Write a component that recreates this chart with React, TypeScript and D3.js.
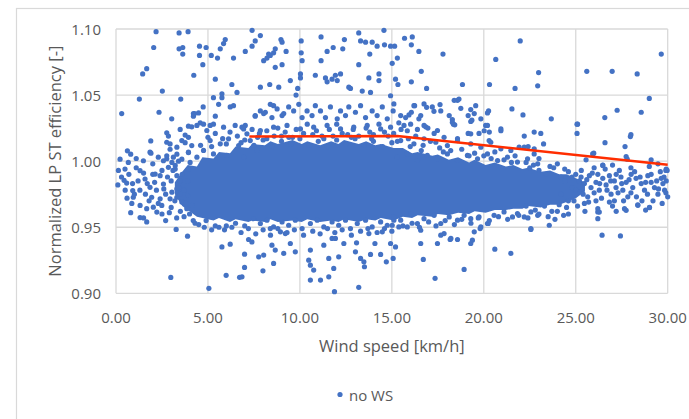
import React, { useRef, useEffect } from "react";
import * as d3 from "d3";

// axis ticks
const xTicks = [0, 5, 10, 15, 20, 25, 30];
const yTicks = [0.9, 0.95, 1.0, 1.05, 1.1];

// dense core of the cloud: [wind speed, lower, upper]
const coreBand = [
  [3.2, 0.975, 0.984], [3.6, 0.966, 0.992], [3.9, 0.963, 0.997], [4.4, 0.958, 0.996],
  [4.7, 0.957, 1.003], [5.3, 0.955, 1.002], [5.6, 0.957, 1.007], [6.2, 0.954, 1.006],
  [6.5, 0.956, 1.011], [7.2, 0.954, 1.010], [7.4, 0.955, 1.013], [8.1, 0.954, 1.012],
  [8.4, 0.956, 1.015], [8.8, 0.954, 1.013], [9.6, 0.955, 1.016], [10.1, 0.954, 1.013],
  [10.4, 0.956, 1.015], [11.1, 0.954, 1.012], [11.7, 0.955, 1.015], [12.1, 0.954, 1.013],
  [12.4, 0.956, 1.016], [13.2, 0.954, 1.013], [13.6, 0.956, 1.015], [14.1, 0.955, 1.012],
  [14.4, 0.957, 1.013], [15.1, 0.955, 1.010], [15.6, 0.958, 1.010], [16.1, 0.957, 1.006],
  [16.4, 0.959, 1.007], [17.2, 0.958, 1.004], [17.5, 0.960, 1.005], [18.1, 0.959, 1.001],
  [18.6, 0.961, 1.003], [19.2, 0.960, 0.999], [19.5, 0.962, 1.001], [20.1, 0.961, 0.997],
  [20.6, 0.963, 0.999], [21.2, 0.963, 0.996], [21.6, 0.964, 0.997], [22.1, 0.964, 0.994],
  [22.4, 0.966, 0.995], [23.1, 0.965, 0.992], [23.6, 0.967, 0.993], [24.1, 0.967, 0.990],
  [24.5, 0.969, 0.990], [25.0, 0.972, 0.987], [25.5, 0.977, 0.984],
];

// sparse points above the cloud
const topPoints = [
  [2.18, 1.098], [3.43, 1.097], [3.92, 1.098], [2.05, 1.086], [3.43, 1.085], [3.63, 1.086], [3.63, 1.081],
  [4.54, 1.087], [4.9, 1.086], [4.54, 1.080], [4.72, 1.073], [1.67, 1.070], [1.45, 1.066], [4.23, 1.065],
  [2.52, 1.053], [1.27, 1.047], [3.52, 1.047], [5.18, 1.080], [5.52, 1.078], [5.67, 1.085], [5.85, 1.089],
  [5.94, 1.092], [6.39, 1.078], [5.4, 1.062], [6.3, 1.058], [6.58, 1.052], [5.3, 1.048], [5.76, 1.051],
  [5.76, 1.048], [7.03, 1.083], [7.4, 1.087], [7.57, 1.091], [7.85, 1.095], [8.03, 1.076], [8.21, 1.078],
  [8.39, 1.080], [8.57, 1.082], [8.66, 1.085], [8.3, 1.081], [8.66, 1.071], [9.03, 1.073], [8.97, 1.092],
  [9.03, 1.090], [9.25, 1.083], [7.4, 1.099], [7.85, 1.056], [8.36, 1.058], [8.85, 1.056], [9.48, 1.061],
  [9.88, 1.055], [9.79, 1.050], [10.07, 1.091], [10.07, 1.082], [10.12, 1.076], [11.15, 1.094], [11.48, 1.083],
  [11.81, 1.086], [12.33, 1.085], [12.42, 1.092], [11.15, 1.076], [10.03, 1.066], [10.03, 1.063], [10.84, 1.065],
  [11.39, 1.063], [11.48, 1.060], [11.75, 1.062], [11.93, 1.065], [12.21, 1.066], [12.03, 1.061], [12.66, 1.056],
  [12.75, 1.055], [13.39, 1.053], [13.84, 1.052], [13.2, 1.097], [14.57, 1.099], [13.3, 1.091], [13.57, 1.090],
  [13.93, 1.090], [14.2, 1.087], [14.6, 1.088], [14.93, 1.087], [13.8, 1.081], [13.2, 1.073], [13.75, 1.063],
  [14.3, 1.066], [14.3, 1.061], [15.3, 1.078], [15.2, 1.062], [15.33, 1.058], [15.69, 1.093], [16.11, 1.094],
  [16.06, 1.088], [15.15, 1.087], [16.47, 1.083], [17.78, 1.081], [15.02, 1.074], [16.6, 1.068], [16.06, 1.060],
  [16.89, 1.055], [18.84, 1.058], [21.98, 1.091], [20.65, 1.077], [22.98, 1.067], [22.93, 1.057], [21.7, 1.055],
  [20.31, 1.058], [25.6, 1.068], [26.98, 1.068], [28.34, 1.066], [29.65, 1.081],
];

// points between the cloud and the top group
const upperPoints = [
  [7.03, 1.027], [7.57, 1.0345], [7.85, 1.038], [8.12, 1.037], [8.39, 1.043], [8.48, 1.033], [8.76, 1.0395],
  [9.03, 1.0345], [9.39, 1.041], [9.66, 1.038], [9.94, 1.043], [10.12, 1.033], [10.39, 1.038], [10.66, 1.0345],
  [10.84, 1.042], [11.12, 1.038], [11.39, 1.033], [11.66, 1.041], [12.03, 1.032], [12.21, 1.038], [12.48, 1.0345],
  [12.66, 1.041], [13.02, 1.037], [13.3, 1.042], [13.57, 1.033], [13.93, 1.038], [14.2, 1.0345], [14.48, 1.041],
  [14.75, 1.032], [6.85, 1.0257], [7.12, 1.0207], [7.85, 1.0232], [8.57, 1.0257], [9.3, 1.027], [10.03, 1.0244],
  [10.75, 1.0257], [11.48, 1.027], [12.21, 1.0244], [12.93, 1.0257], [13.66, 1.027], [14.39, 1.0244], [14.93, 1.0257],
  [14.93, 1.0495], [15.11, 1.0433], [15.07, 1.038], [16.24, 1.042], [16.75, 1.0433], [16.89, 1.0407], [17.62, 1.0428],
  [17.29, 1.0377], [16.06, 1.037], [15.93, 1.035], [15.75, 1.033], [15.48, 1.0345], [15.38, 1.029], [15.66, 1.027],
  [16.02, 1.028], [16.47, 1.032], [16.84, 1.026], [16.96, 1.025], [18.29, 1.0315], [18.35, 1.028], [18.42, 1.0275],
  [18.57, 1.046], [18.65, 1.047], [18.75, 1.040], [19.29, 1.039], [19.56, 1.042], [19.15, 1.0345], [19.35, 1.031],
  [19.74, 1.021], [19.15, 1.021], [20.26, 1.038], [20.2, 1.0365], [20.1, 1.027], [20.3, 1.022], [20.93, 1.023],
  [21.53, 1.0395], [22.13, 1.035], [23.67, 1.032], [22.74, 1.022], [23.1, 1.021], [22.2, 1.019], [25.07, 1.028],
  [25.07, 1.021], [26.58, 1.033], [27.25, 1.0385], [28.56, 1.037], [29.0, 1.0475], [28.0, 1.020], [20.29, 1.0156],
  [22.41, 1.011], [21.92, 1.0106], [22.74, 1.0094], [23.25, 1.013], [25.56, 1.001], [25.98, 1.006], [26.59, 1.014],
  [27.68, 1.011], [27.97, 1.0186], [27.74, 1.0035], [29.1, 1.001], [29.47, 0.998], [29.92, 0.994], [26.47, 0.997],
  [27.8, 1.0015], [16.2, 1.042], [16.57, 1.0345], [17.2, 1.041], [17.66, 1.038], [18.12, 1.0345], [18.39, 1.046],
  [19.48, 1.036], [19.84, 1.032], [20.02, 1.023], [15.84, 1.023], [16.39, 1.024], [17.3, 1.021], [17.84, 1.018],
  [18.57, 1.017], [19.29, 1.013], [4.21, 1.036], [4.12, 1.026], [4.58, 1.029], [0.31, 1.036], [2.34, 1.037],
  [3.03, 1.032], [4.27, 1.036], [4.74, 1.041], [4.76, 1.028], [5.12, 1.027], [5.4, 1.034], [7.57, 1.034],
  [8.03, 1.036], [8.57, 1.042], [9.12, 1.036], [5.58, 1.043], [6.39, 1.042], [6.21, 1.041],
];

// rough top edge of the cloud
const edgeTopPoints = [
  [15.3, 1.003], [15.84, 1.0055], [16.39, 1.0005], [16.93, 1.0043], [17.48, 1.0018], [18.02, 1.0055], [18.57, 1.0005],
  [19.11, 1.0043], [19.66, 1.0018], [20.2, 1.0055], [20.75, 1.0005], [21.29, 1.003], [21.83, 0.9993], [22.38, 1.0018],
  [22.93, 0.998], [15.48, 1.0156], [16.2, 1.0131], [16.75, 1.0169], [17.39, 1.0143], [18.02, 1.0118], [18.57, 1.0156],
  [19.84, 1.0106], [20.38, 1.0143], [20.93, 1.0093], [21.47, 1.0081], [22.2, 1.0106], [22.74, 1.0055], [18.29, 1.0294],
  [19.29, 1.030], [20.2, 1.027], [20.93, 1.0244], [19.29, 1.0207], [16.75, 1.027], [17.48, 1.0232], [7.5, 1.012],
  [8.0, 1.016], [8.5, 1.011], [9.0, 1.015], [9.5, 1.013], [10.0, 1.017], [10.5, 1.012], [11.0, 1.015], [11.5, 1.011],
  [12.0, 1.016], [12.5, 1.013], [13.0, 1.017], [13.5, 1.012], [14.0, 1.015], [14.5, 1.011], [15.0, 1.014], [7.8, 1.021],
  [9.2, 1.022], [10.7, 1.020], [12.3, 1.021], [13.8, 1.022], [14.8, 1.019], [8.6, 1.019], [11.8, 1.019], [4.4, 1.027],
  [4.94, 1.0232], [5.3, 1.028], [5.85, 1.0257], [6.48, 1.027], [6.94, 1.0244], [5.12, 1.0156], [5.67, 1.0131],
  [6.12, 1.0169], [6.67, 1.0118], [7.3, 1.0156], [7.67, 1.0081], [4.76, 1.0081], [5.3, 1.0055], [6.03, 1.0043],
  [4.4, 1.003], [6.94, 1.003], [3.94, 1.0068], [4.12, 1.0118], [3.76, 1.0197], [3.94, 1.018], [2.76, 1.0143],
  [2.94, 1.013], [3.31, 1.0106], [3.58, 1.0156], [1.85, 1.0068], [2.58, 1.0003], [2.76, 1.0018], [3.12, 1.003],
  [3.22, 0.9968], [22.5, 0.995], [23.0, 0.993], [23.4, 0.990], [23.8, 0.995], [24.2, 0.988], [24.6, 0.992],
  [25.0, 0.990], [25.2, 0.985], [24.8, 0.980],
  [4.6, 1.012], [5.0, 1.018], [5.4, 1.021], [5.8, 1.017], [6.2, 1.022], [6.6, 1.019], [7.0, 1.016], [7.4, 1.024],
  [7.7, 1.018], [8.2, 1.023], [8.8, 1.025], [9.0, 1.019], [9.4, 1.018], [9.8, 1.024], [10.2, 1.021], [10.4, 1.028],
  [10.9, 1.023], [11.2, 1.019], [11.6, 1.024], [12.0, 1.028], [12.6, 1.020], [12.9, 1.024], [13.2, 1.019],
  [13.6, 1.025], [14.0, 1.020], [14.3, 1.028], [14.6, 1.022], [15.1, 1.021], [15.5, 1.024], [15.9, 1.017],
  [16.3, 1.019], [16.7, 1.012], [17.1, 1.015], [17.6, 1.010], [18.2, 1.008], [18.8, 1.009], [19.5, 1.006],
  [20.0, 1.004], [20.6, 1.007], [21.1, 1.001], [21.7, 1.004], [22.3, 0.999], [23.0, 1.002], [23.6, 0.996],
  [24.0, 0.998], [24.4, 0.994], [5.2, 1.011], [6.0, 1.013], [6.8, 1.014], [8.2, 1.017], [9.6, 1.018],
  [11.3, 1.017], [12.8, 1.018], [13.9, 1.017], [15.3, 1.015], [16.0, 1.011], [16.6, 1.008], [17.8, 1.007],
  [19.2, 1.004], [20.4, 1.002], [21.5, 0.999], [22.7, 0.997],
];

// left side of the cloud, low wind speeds
const leftPoints = [
  [0.22, 1.0015], [0.49, 0.994], [0.67, 0.999], [0.62, 1.0078], [0.8, 1.0053], [1.49, 1.0003], [1.31, 0.9928],
  [1.58, 0.9865], [1.85, 0.9802], [0.91, 0.9777], [0.94, 0.9727], [1.31, 0.9665], [1.67, 0.964], [2.03, 0.9652],
  [2.22, 0.9615], [2.49, 0.9665], [2.4, 0.9715], [1.94, 0.9727], [2.13, 0.9902], [2.4, 0.989], [2.58, 0.9827],
  [2.85, 0.9953], [3.04, 0.999], [2.76, 1.004], [2.94, 1.009], [3.31, 1.0053], [3.58, 1.0015], [3.22, 0.994],
  [3.31, 0.989], [3.49, 0.9852], [3.31, 0.979], [3.04, 0.9765], [2.94, 0.9715], [3.31, 0.9727], [3.58, 0.969],
  [3.85, 0.964], [4.13, 0.9665], [3.94, 0.994], [4.03, 0.999], [3.94, 1.0065], [3.76, 1.014], [3.94, 1.0265],
  [4.21, 1.034], [4.49, 1.0365], [3.49, 1.024], [2.76, 1.0215], [2.85, 1.019], [1.89, 1.0153], [0.13, 0.993],
  [0.44, 0.9855], [0.58, 0.9834], [0.86, 0.968], [1.31, 0.9573], [1.67, 0.954], [3.6, 0.990], [3.9, 0.985],
  [3.5, 0.975], [3.8, 0.968], [4.0, 0.960], [3.7, 0.958], [4.2, 0.955], [4.5, 0.952], [4.8, 0.950], [5.2, 0.948],
  [5.6, 0.950], [6.0, 0.951], [6.5, 0.953], [7.0, 0.951], [3.4, 0.980], [3.0, 0.985], [2.7, 0.975], [2.2, 0.978],
  [2.0, 0.990], [1.2, 0.985], [1.0, 0.975], [0.5, 0.978], [1.6, 0.975], [2.5, 0.960], [3.0, 0.965],
  [0.3, 0.988], [0.7, 0.990], [0.9, 0.983], [1.1, 0.995], [1.3, 0.978], [1.5, 0.991], [1.7, 0.983], [1.8, 0.970],
  [2.0, 0.998], [2.1, 0.984], [2.3, 0.968], [2.5, 0.993], [2.6, 0.979], [2.8, 0.988], [2.9, 0.961], [3.1, 0.993],
  [3.2, 0.970], [3.4, 1.000], [3.5, 0.962], [3.7, 0.978], [3.9, 0.974], [1.1, 1.002], [1.9, 1.006], [2.3, 1.003],
  [0.8, 0.961], [1.5, 0.957], [2.7, 0.955], [3.3, 0.957], [0.1, 0.982], [0.6, 0.972],
];

// points below the cloud
const lowerPoints = [
  [3.27, 0.9483], [3.89, 0.9432], [5.76, 0.9351], [6.21, 0.9372], [2.98, 0.912], [5.05, 0.9038], [6.99, 0.9296],
  [6.99, 0.9196], [5.99, 0.9136], [6.72, 0.9121], [7.21, 0.9407], [6.85, 0.9125], [7.39, 0.9389], [7.76, 0.9276],
  [8.03, 0.9289], [7.99, 0.917], [8.57, 0.9226], [8.48, 0.9364], [8.66, 0.9327], [9.12, 0.9302], [9.48, 0.9377],
  [9.75, 0.9314], [8.94, 0.9465], [9.21, 0.9452], [8.39, 0.949], [10.57, 0.9327], [10.48, 0.9251], [10.57, 0.9213],
  [10.75, 0.9176], [10.57, 0.91], [11.12, 0.91], [11.57, 0.9125], [11.84, 0.9188], [11.88, 0.9012], [11.3, 0.9364],
  [11.57, 0.9264], [11.75, 0.9415], [11.93, 0.9415], [12.11, 0.9276], [12.39, 0.9377], [13.02, 0.9314], [13.08, 0.9382],
  [13.3, 0.9264], [13.51, 0.9201], [13.48, 0.9238], [13.2, 0.9045], [13.84, 0.9294], [14.08, 0.9377], [14.39, 0.9294],
  [14.7, 0.9238], [14.93, 0.9377], [15.07, 0.9264], [15.2, 0.9351], [13.75, 0.9452], [14.48, 0.9465], [15.02, 0.9515],
  [15.84, 0.9502], [16.57, 0.9377], [16.71, 0.9256], [17.35, 0.9113], [17.48, 0.9377], [17.84, 0.9452], [18.17, 0.9407],
  [18.57, 0.9407], [18.93, 0.9181], [19.29, 0.9377], [19.48, 0.9465], [19.8, 0.949], [20.24, 0.9528], [20.6, 0.9334],
  [21.47, 0.9302], [22.56, 0.9483], [23.56, 0.9515], [23.87, 0.956], [24.34, 0.959], [26.2, 0.9565], [26.2, 0.9616],
  [26.43, 0.944], [27.43, 0.9434], [27.74, 0.9628], [29.01, 0.9649], [28.38, 0.9666], [16.57, 0.9477], [17.66, 0.944],
  [19.38, 0.9402], [18.21, 0.9415], [19.84, 0.9502], [22.56, 0.949],
];

// rough bottom edge of the cloud
const edgeBottomPoints = [
  [7.48, 0.9565], [7.85, 0.9528], [8.21, 0.9553], [8.57, 0.9502], [9.03, 0.954], [9.39, 0.9515], [9.75, 0.9553],
  [10.12, 0.949], [10.57, 0.9528], [10.94, 0.9553], [11.3, 0.9502], [11.75, 0.954], [12.11, 0.9515], [12.48, 0.9553],
  [12.75, 0.949], [13.12, 0.9528], [13.57, 0.9553], [13.93, 0.9502], [14.39, 0.954], [14.75, 0.9515], [15.11, 0.9553],
  [15.38, 0.9502], [15.11, 0.9578], [15.48, 0.9553], [16.02, 0.9603], [16.39, 0.9528], [16.75, 0.9565], [17.3, 0.959],
  [17.66, 0.9528], [18.12, 0.9578], [18.57, 0.9553], [18.93, 0.959], [19.29, 0.9565], [19.74, 0.9578], [20.2, 0.9528],
  [20.56, 0.959], [21.1, 0.9616], [21.56, 0.9578], [21.83, 0.9603], [22.2, 0.9578], [22.56, 0.9616], [22.93, 0.959],
  [22.3, 0.966], [22.8, 0.963], [23.3, 0.966], [23.7, 0.962], [24.1, 0.967], [24.5, 0.965], [24.9, 0.970],
  [4.3, 0.953], [4.9, 0.955], [5.4, 0.951], [5.9, 0.948], [6.3, 0.950], [6.8, 0.946], [7.2, 0.949], [7.6, 0.945],
  [8.0, 0.948], [8.4, 0.944], [8.8, 0.949], [9.3, 0.946], [9.7, 0.948], [10.2, 0.944], [10.7, 0.947], [11.1, 0.945],
  [11.5, 0.949], [11.9, 0.946], [12.3, 0.948], [12.8, 0.944], [13.3, 0.947], [13.7, 0.949], [14.2, 0.946],
  [14.6, 0.949], [15.0, 0.947], [15.6, 0.951], [16.1, 0.953], [16.5, 0.950], [17.0, 0.954], [17.4, 0.951],
  [17.9, 0.955], [18.4, 0.952], [18.8, 0.956], [19.3, 0.953], [19.7, 0.957], [20.3, 0.955], [20.8, 0.958],
  [21.3, 0.956], [21.9, 0.959], [22.4, 0.957], [23.0, 0.960], [23.5, 0.958], [24.0, 0.962], [24.6, 0.960],
];

// loose cloud at high wind speeds
const rightPoints = [
  [25.29, 0.988], [25.47, 0.983], [25.74, 0.989], [25.83, 0.980], [26.1, 0.984], [26.2, 0.990], [26.28, 0.978],
  [26.47, 0.987], [26.65, 0.982], [26.83, 0.989], [26.92, 0.975], [27.1, 0.985], [27.19, 0.980], [27.37, 0.993],
  [27.46, 0.988], [27.56, 0.978], [27.74, 0.984], [27.83, 0.973], [28.01, 0.990], [28.1, 0.980], [28.28, 0.987],
  [28.37, 0.967], [28.56, 0.983], [28.74, 0.978], [28.92, 0.989], [29.01, 0.965], [29.1, 0.984], [29.28, 0.980],
  [29.47, 0.975], [29.65, 0.987], [29.74, 0.983], [29.83, 0.978], [29.92, 0.985], [30.0, 0.973], [29.97, 0.993],
  [26.83, 0.969], [27.1, 0.970], [27.65, 0.964], [26.2, 0.964], [26.28, 0.9615], [26.1, 0.970], [25.65, 0.973],
  [25.47, 0.968], [25.2, 0.977], [25.1, 1.028], [25.92, 1.0055], [26.47, 0.9968], [29.9, 0.993],
  [24.2, 0.975], [24.4, 0.985], [24.6, 0.970], [24.8, 0.988], [25.0, 0.978], [25.1, 0.966], [25.3, 0.993],
  [25.4, 0.975], [25.6, 0.986], [25.7, 0.969], [25.9, 0.991], [26.0, 0.976], [26.3, 0.983], [26.4, 0.972],
  [26.6, 0.994], [26.7, 0.978], [26.9, 0.985], [27.0, 0.966], [27.2, 0.990], [27.3, 0.976], [27.5, 0.983],
  [27.6, 0.970], [27.9, 0.986], [28.0, 0.976], [28.2, 0.992], [28.3, 0.973], [28.5, 0.988], [28.6, 0.970],
  [28.8, 0.984], [28.9, 0.975], [29.1, 0.990], [29.2, 0.970], [29.4, 0.985], [29.5, 0.979], [29.6, 0.992],
  [29.7, 0.968], [29.8, 0.988], [29.9, 0.976], [26.0, 0.995], [27.0, 0.997], [28.0, 0.995], [29.0, 0.996],
  [25.5, 0.962], [27.2, 0.962], [28.8, 0.963],
];

const noWS = [
  ...topPoints, ...upperPoints, ...edgeTopPoints, ...leftPoints,
  ...lowerPoints, ...edgeBottomPoints, ...rightPoints,
];

// red trend line
const trendX = [7.25, 15.3, 30];
const trendY = [1.0186, 1.019, 0.9973];

export default function App() {
  const ref = useRef(null);

  const layout = { width: 689, height: 419, left: 116, right: 667.7, top: 29, bottom: 293.3 };
  const blue = "#4472C4";
  const textColor = "#595959";
  const font = "'Open Sans', 'Noto Sans', sans-serif";

  useEffect(() => {
    const svg = d3.select(ref.current);
    svg.selectAll("*").remove();

    const xScale = d3.scaleLinear().domain([0, 30]).range([layout.left, layout.right]);
    const yScale = d3.scaleLinear().domain([0.9, 1.1]).range([layout.bottom, layout.top]);

    svg.append("rect")
      .attr("x", 0).attr("y", 0)
      .attr("width", layout.width).attr("height", layout.height)
      .attr("fill", "white");

    // chart frame
    svg.append("rect")
      .attr("x", 16.5).attr("y", 8.5)
      .attr("width", 700).attr("height", 430)
      .attr("fill", "none")
      .attr("stroke", "#D9D9D9")
      .attr("stroke-width", 1.2);

    const grid = svg.append("g");
    grid.selectAll(".vgrid")
      .data(xTicks)
      .join("line")
      .attr("class", "vgrid")
      .attr("x1", d => xScale(d)).attr("x2", d => xScale(d))
      .attr("y1", layout.top).attr("y2", layout.bottom)
      .attr("stroke", "#D9D9D9").attr("stroke-width", 1.3);
    grid.selectAll(".hgrid")
      .data(yTicks)
      .join("line")
      .attr("class", "hgrid")
      .attr("x1", layout.left).attr("x2", layout.right)
      .attr("y1", d => yScale(d)).attr("y2", d => yScale(d))
      .attr("stroke", "#D9D9D9").attr("stroke-width", 1.3);

    // solid core of the cloud
    const area = d3.area()
      .x(d => xScale(d[0]))
      .y0(d => yScale(d[1]))
      .y1(d => yScale(d[2]));
    svg.append("path")
      .datum(coreBand)
      .attr("d", area)
      .attr("fill", blue);

    svg.append("g")
      .selectAll("circle")
      .data(noWS)
      .join("circle")
      .attr("cx", d => xScale(d[0]))
      .attr("cy", d => yScale(d[1]))
      .attr("r", 2.6)
      .attr("fill", blue);

    const line = d3.line()
      .x(d => xScale(d[0]))
      .y(d => yScale(d[1]));
    svg.append("path")
      .datum(trendX.map((x, i) => [x, trendY[i]]))
      .attr("d", line)
      .attr("fill", "none")
      .attr("stroke", "#FF2D00")
      .attr("stroke-width", 2.5);

    // tick labels
    svg.append("g")
      .selectAll("text")
      .data(xTicks)
      .join("text")
      .attr("x", d => xScale(d))
      .attr("y", 317)
      .attr("text-anchor", "middle")
      .attr("dominant-baseline", "central")
      .attr("font-family", font)
      .attr("font-size", 15)
      .attr("fill", textColor)
      .text(d => d3.format(".2f")(d));

    svg.append("g")
      .selectAll("text")
      .data(yTicks)
      .join("text")
      .attr("x", 101)
      .attr("y", d => yScale(d))
      .attr("text-anchor", "end")
      .attr("dominant-baseline", "central")
      .attr("font-family", font)
      .attr("font-size", 15)
      .attr("fill", textColor)
      .text(d => d3.format(".2f")(d));

    svg.append("text")
      .attr("x", (layout.left + layout.right) / 2)
      .attr("y", 345)
      .attr("text-anchor", "middle")
      .attr("dominant-baseline", "central")
      .attr("font-family", font)
      .attr("font-size", 16.5)
      .attr("fill", textColor)
      .text("Wind speed [km/h]");

    svg.append("text")
      .attr("transform", `translate(54, ${(layout.top + layout.bottom) / 2}) rotate(-90)`)
      .attr("text-anchor", "middle")
      .attr("dominant-baseline", "central")
      .attr("font-family", font)
      .attr("font-size", 16.5)
      .attr("fill", textColor)
      .text("Normalized LP ST efficiency [-]");

    // legend
    svg.append("circle")
      .attr("cx", 340).attr("cy", 394.5).attr("r", 2.6)
      .attr("fill", blue);
    svg.append("text")
      .attr("x", 349).attr("y", 394.5)
      .attr("dominant-baseline", "central")
      .attr("font-family", font)
      .attr("font-size", 15)
      .attr("fill", textColor)
      .text("no WS");
  }, []);

  return (
    <svg ref={ref} width={layout.width} height={layout.height}
      style={{ position: "absolute", left: 0, top: 0, display: "block" }} />
  );
}
